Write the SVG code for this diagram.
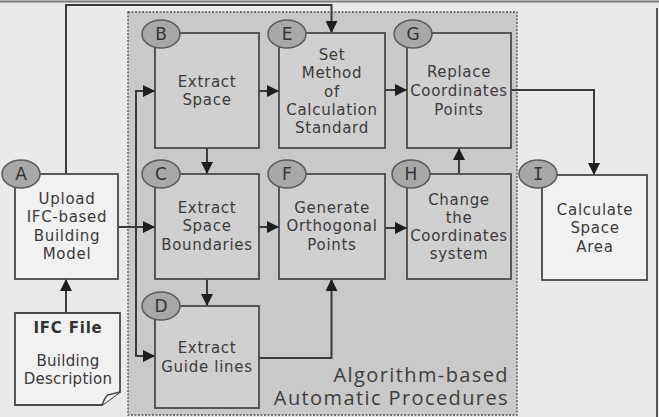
<svg xmlns="http://www.w3.org/2000/svg" width="659" height="417" viewBox="0 0 659 417">
<defs>
<style>
.bg{fill:#eaeaea}
.box{stroke:#4a4a4a;stroke-width:1.8}
.out{fill:#f1f1f1}
.in{fill:#d0d0d0}
.lbl{fill:#a8a8a8;stroke:#5a5a5a;stroke-width:1.5}
.ltr{font-family:"DejaVu Sans",sans-serif;font-size:17px;fill:#333;text-anchor:middle}
.t{font-family:"DejaVu Sans",sans-serif;font-size:15px;letter-spacing:0.7px;fill:#3a3a3a;text-anchor:middle}
.c{fill:none;stroke:#3a3a3a;stroke-width:2}
.alg{font-family:"Open Sans",sans-serif;font-size:20px;letter-spacing:1.4px;fill:#3d3d3d;text-anchor:end}
</style>
<marker id="ah" viewBox="0 0 12 12" markerWidth="12" markerHeight="12" refX="12" refY="6" orient="auto" markerUnits="userSpaceOnUse">
<path d="M0,0 L12,6 L0,12 Z" fill="#1e1e1e"/>
</marker>
</defs>
<rect class="bg" x="0" y="0" width="659" height="417"/>
<line x1="0" y1="1.5" x2="659" y2="1.5" stroke="#7a7a7a" stroke-width="2"/>
<line x1="657" y1="8" x2="657" y2="417" stroke="#5a5a5a" stroke-width="2"/>
<g id="container">
<rect x="128" y="12" width="389" height="403" fill="#c9c9c9" stroke="#555" stroke-width="1.3" stroke-dasharray="2,1.5"/>
<text class="alg" x="509" y="382">Algorithm-based<tspan x="509" dy="23">Automatic Procedures</tspan></text>
</g>
<g id="connectors">
<path class="c" d="M66,174 V5 H331.5 V33" marker-end="url(#ah)"/>
<path class="c" d="M118,227 H155" marker-end="url(#ah)"/>
<path class="c" d="M136,356 V91 H155" marker-end="url(#ah)"/>
<path class="c" d="M136,300 V356 H155" marker-end="url(#ah)"/>
<path class="c" d="M207,148 V174" marker-end="url(#ah)"/>
<path class="c" d="M207,279 V306" marker-end="url(#ah)"/>
<path class="c" d="M259,91 H279" marker-end="url(#ah)"/>
<path class="c" d="M259,227 H279" marker-end="url(#ah)"/>
<path class="c" d="M259,358 H331.5 V279" marker-end="url(#ah)"/>
<path class="c" d="M385,90 H407" marker-end="url(#ah)"/>
<path class="c" d="M385,228 H407" marker-end="url(#ah)"/>
<path class="c" d="M459,174 V148" marker-end="url(#ah)"/>
<path class="c" d="M511,90 H594 V175" marker-end="url(#ah)"/>
<path class="c" d="M66,313 V279" marker-end="url(#ah)"/>
</g>
<g id="A">
<rect class="box out" x="15" y="174" width="103" height="105"/>
<ellipse class="lbl" cx="21" cy="174" rx="19" ry="14"/>
<text class="ltr" x="21" y="180">A</text>
<text class="t" x="67" y="204">Upload</text>
<text class="t" x="67" y="222">IFC-based</text>
<text class="t" x="67" y="240.5">Building</text>
<text class="t" x="67" y="258.5">Model</text>
</g>
<g id="IFC">
<path class="box out" d="M15,313 H120 V392 L102,405 H15 Z"/>
<path d="M102,405 C104,400 106,396 108,395 L120,392" fill="#f8f8f8" stroke="#4a4a4a" stroke-width="1.5"/>
<text x="68" y="333" font-family="'DejaVu Sans',sans-serif" font-size="15" font-weight="bold" letter-spacing="0.8" fill="#333" text-anchor="middle">IFC File</text>
<text class="t" x="68" y="366" style="letter-spacing:0.3px">Building</text>
<text class="t" x="68" y="383.5" style="letter-spacing:0.3px">Description</text>
</g>
<g id="B">
<rect class="box in" x="155" y="33" width="104" height="115"/>
<ellipse class="lbl" cx="161" cy="34" rx="19" ry="14"/>
<text class="ltr" x="161" y="40">B</text>
<text class="t" x="207" y="87">Extract</text>
<text class="t" x="207" y="105">Space</text>
</g>
<g id="C">
<rect class="box in" x="155" y="174" width="104" height="105"/>
<ellipse class="lbl" cx="161" cy="174" rx="19" ry="14"/>
<text class="ltr" x="161" y="180">C</text>
<text class="t" x="207" y="213">Extract</text>
<text class="t" x="207" y="231">Space</text>
<text class="t" x="207" y="250">Boundaries</text>
</g>
<g id="D">
<rect class="box in" x="155" y="306" width="104" height="102"/>
<ellipse class="lbl" cx="161" cy="306" rx="19" ry="14"/>
<text class="ltr" x="161" y="312">D</text>
<text class="t" x="207" y="353">Extract</text>
<text class="t" x="207" y="371.5">Guide lines</text>
</g>
<g id="E">
<rect class="box in" x="279" y="33" width="106" height="115"/>
<ellipse class="lbl" cx="287" cy="34" rx="19" ry="14"/>
<text class="ltr" x="287" y="40">E</text>
<text class="t" x="332" y="60">Set</text>
<text class="t" x="332" y="78.3">Method</text>
<text class="t" x="332" y="96.5">of</text>
<text class="t" x="332" y="115">Calculation</text>
<text class="t" x="332" y="133.3">Standard</text>
</g>
<g id="F">
<rect class="box in" x="279" y="174" width="106" height="105"/>
<ellipse class="lbl" cx="287" cy="174" rx="19" ry="14"/>
<text class="ltr" x="287" y="180">F</text>
<text class="t" x="332" y="213">Generate</text>
<text class="t" x="332" y="231">Orthogonal</text>
<text class="t" x="332" y="250">Points</text>
</g>
<g id="G">
<rect class="box in" x="407" y="33" width="104" height="115"/>
<ellipse class="lbl" cx="413" cy="34" rx="19" ry="14"/>
<text class="ltr" x="413" y="40">G</text>
<text class="t" x="459" y="77.3">Replace</text>
<text class="t" x="459" y="96">Coordinates</text>
<text class="t" x="459" y="115">Points</text>
</g>
<g id="H">
<rect class="box in" x="407" y="174" width="104" height="105"/>
<ellipse class="lbl" cx="411" cy="174" rx="19" ry="14"/>
<text class="ltr" x="411" y="180">H</text>
<text class="t" x="459" y="205">Change</text>
<text class="t" x="459" y="223.3">the</text>
<text class="t" x="459" y="241">Coordinates</text>
<text class="t" x="459" y="258.5">system</text>
</g>
<g id="I">
<rect class="box out" x="542" y="175" width="105" height="105"/>
<ellipse class="lbl" cx="538" cy="174" rx="19" ry="14"/>
<text class="ltr" x="538" y="180" style="font-family:'DejaVu Sans Mono',monospace">I</text>
<text class="t" x="595" y="215">Calculate</text>
<text class="t" x="595" y="233.3">Space</text>
<text class="t" x="595" y="251.7">Area</text>
</g>
</svg>
